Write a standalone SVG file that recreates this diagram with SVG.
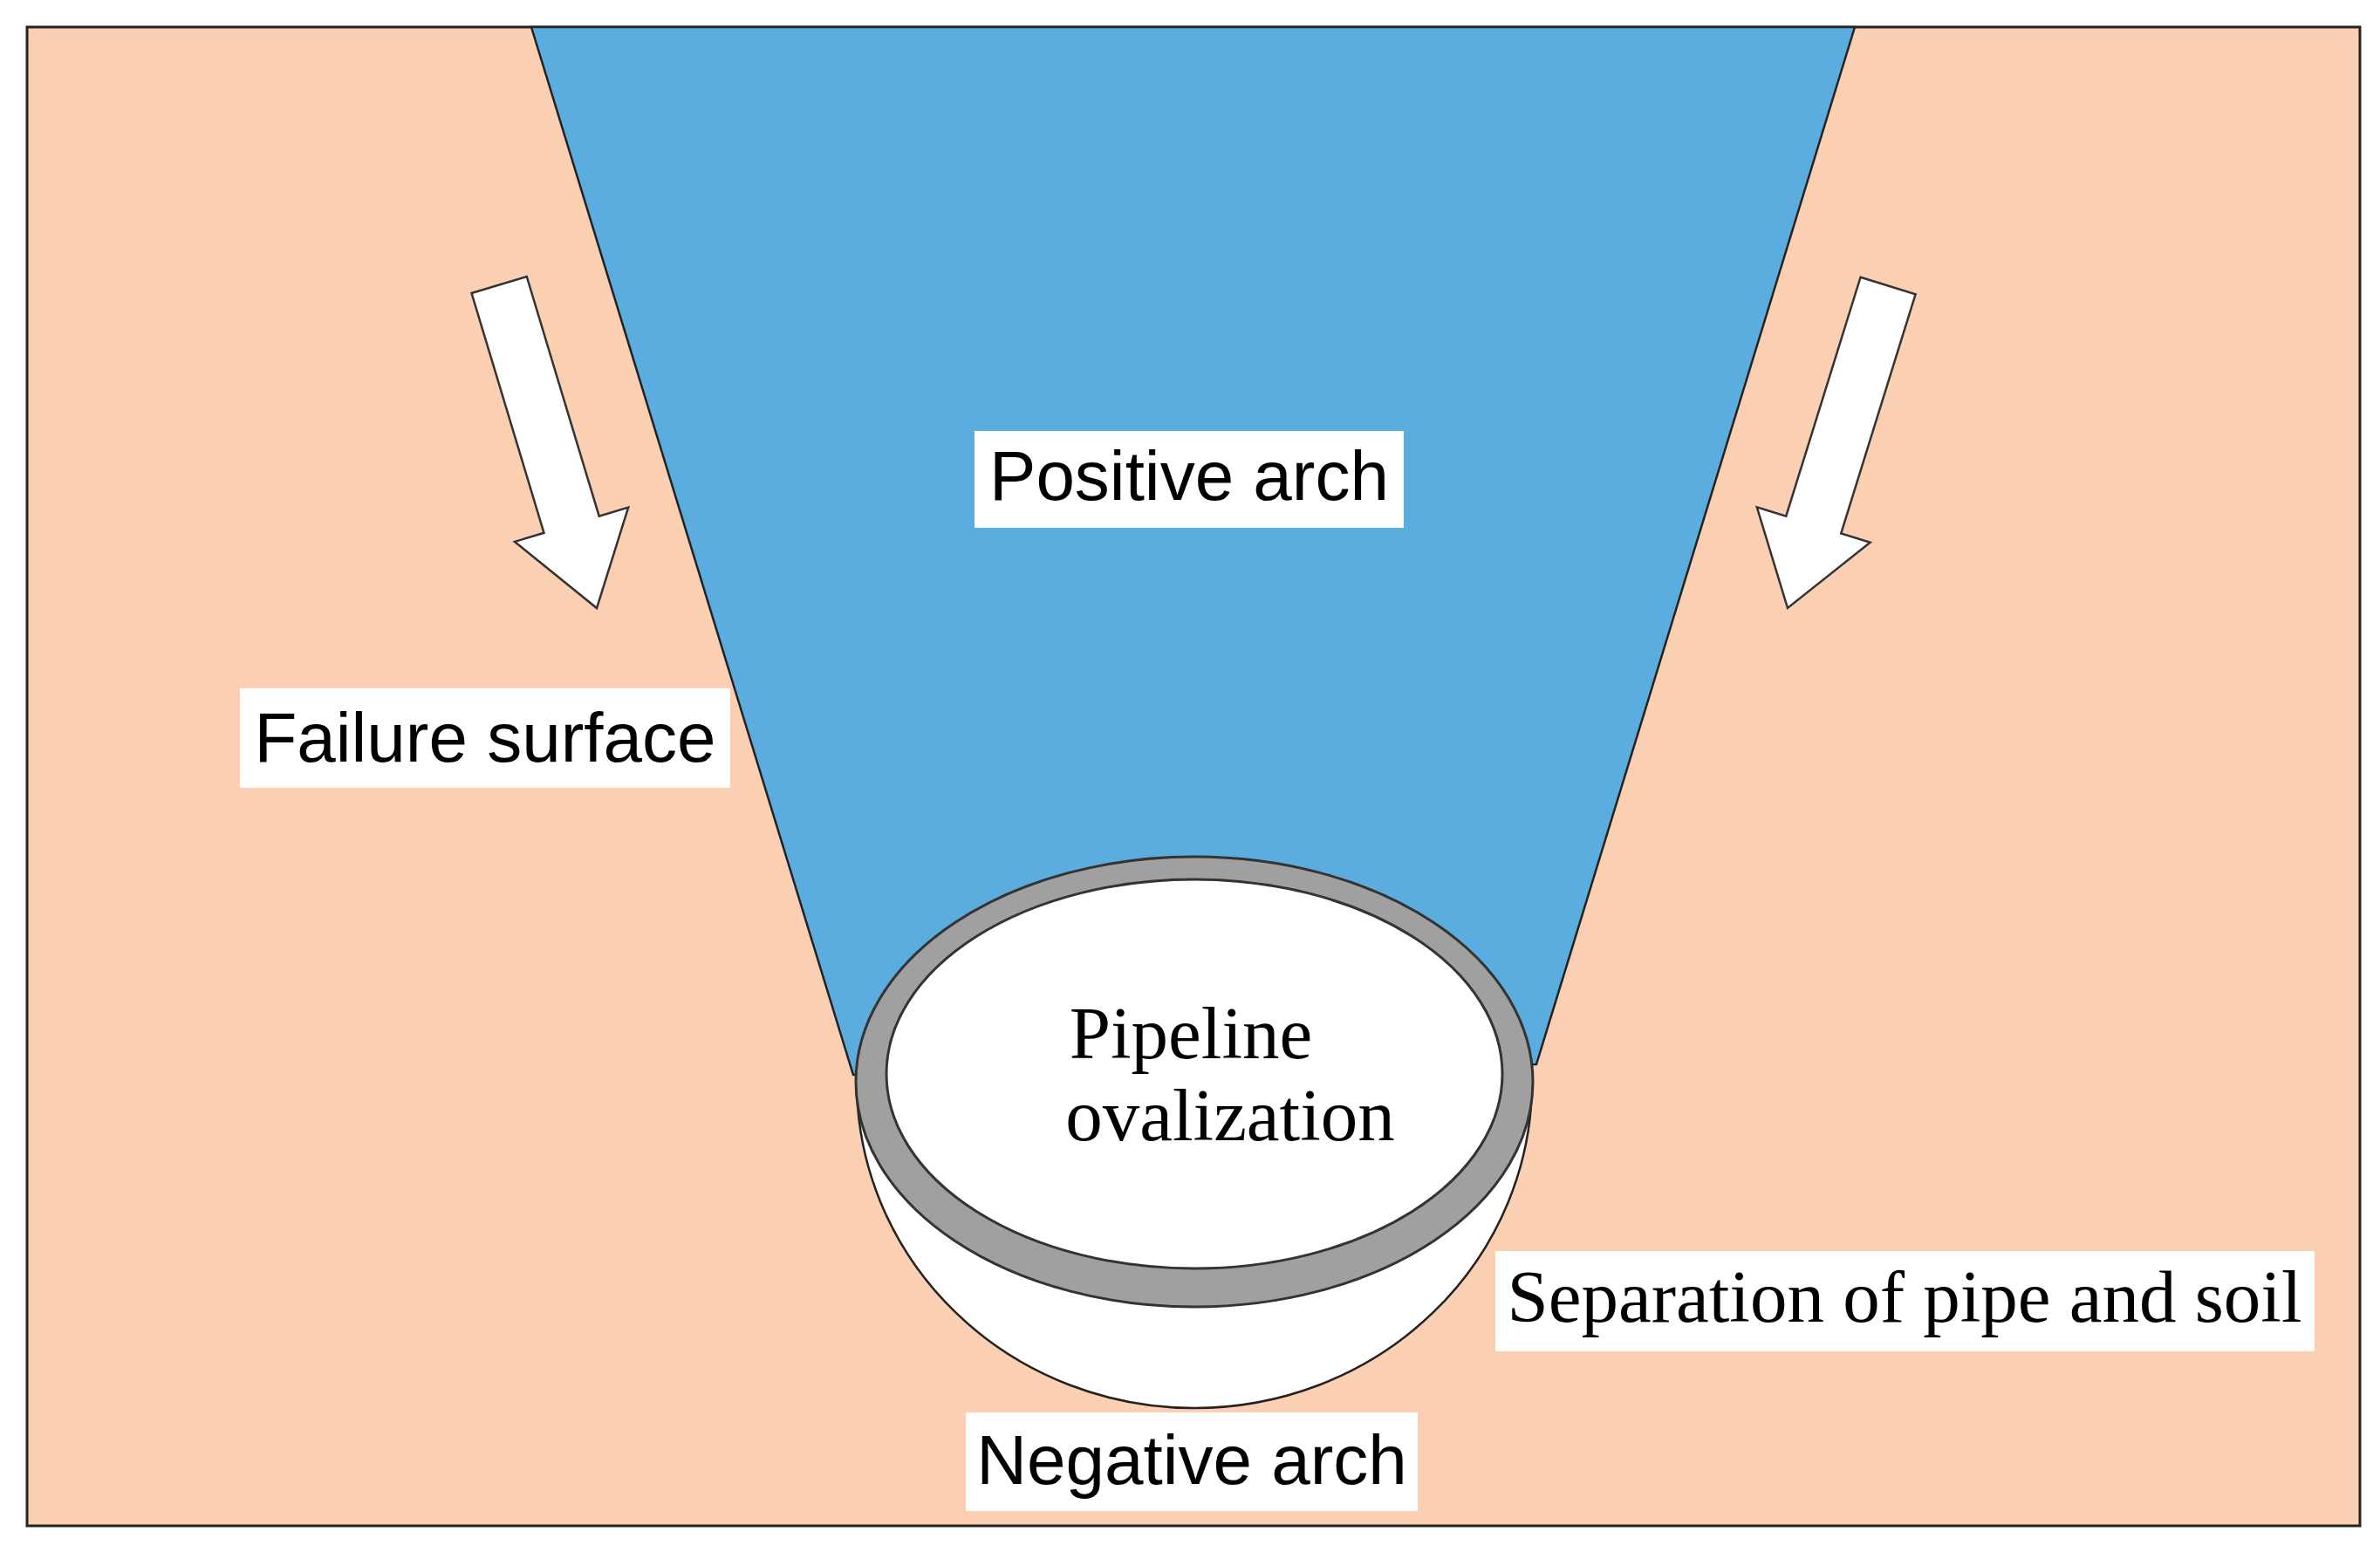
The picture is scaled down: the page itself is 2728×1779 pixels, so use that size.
<svg xmlns="http://www.w3.org/2000/svg" width="2728" height="1779" viewBox="0 0 2728 1779">
<style>
.lbl{fill:#fff}
.sans{font-family:"Liberation Sans",Arial,sans-serif;font-size:80px;fill:#000}
.serif{font-family:"Liberation Serif","Times New Roman",serif;font-size:85px;fill:#000}
.arrow{fill:#fff;stroke:#333;stroke-width:2.5}
</style>
<rect x="0" y="0" width="2728" height="1779" fill="#fff"/>
<g id="soil"><rect x="31" y="31" width="2674" height="1718" fill="#FBCFB2" stroke="#222" stroke-width="3"/></g>
<g id="positive-arch-zone"><polygon points="609,31 2126,31 1761,1220 978,1232" fill="#5BADE0" stroke="#222" stroke-width="2.5"/></g>
<g id="negative-arch"><path d="M982,1240 A387,374 0 0 0 1756,1240 Z" fill="#fff" stroke="#222" stroke-width="2.5"/></g>
<g id="pipe">
<ellipse cx="1369" cy="1240" rx="388" ry="258" fill="#A0A0A0" stroke="#333" stroke-width="3"/>
<ellipse cx="1369" cy="1231" rx="353" ry="223" fill="#fff" stroke="#333" stroke-width="3"/>
<text class="serif" x="1365" y="1213" text-anchor="middle">Pipeline</text>
<text class="serif" x="1410" y="1307" text-anchor="middle">ovalization</text>
</g>
<g id="connectors">
<polygon class="arrow" transform="translate(684,697) rotate(-16.8)" points="-33,-387 33,-387 33,-100 68,-100 0,0 -68,-100 -33,-100"/>
<polygon class="arrow" transform="translate(2049,697) rotate(17.3)" points="-33,-387 33,-387 33,-100 68,-100 0,0 -68,-100 -33,-100"/>
</g>
<g id="label-positive-arch"><rect class="lbl" x="1117" y="494" width="492" height="111"/><text class="sans" x="1363" y="573" text-anchor="middle">Positive arch</text></g>
<g id="label-failure-surface"><rect class="lbl" x="275" y="789" width="562" height="114"/><text class="sans" x="556" y="873" text-anchor="middle">Failure surface</text></g>
<g id="label-separation"><rect class="lbl" x="1714" y="1434" width="939" height="115"/><text class="serif" x="2183" y="1515" text-anchor="middle">Separation of pipe and soil</text></g>
<g id="label-negative-arch"><rect class="lbl" x="1107" y="1619" width="518" height="113"/><text class="sans" x="1366" y="1701" text-anchor="middle">Negative arch</text></g>
</svg>
